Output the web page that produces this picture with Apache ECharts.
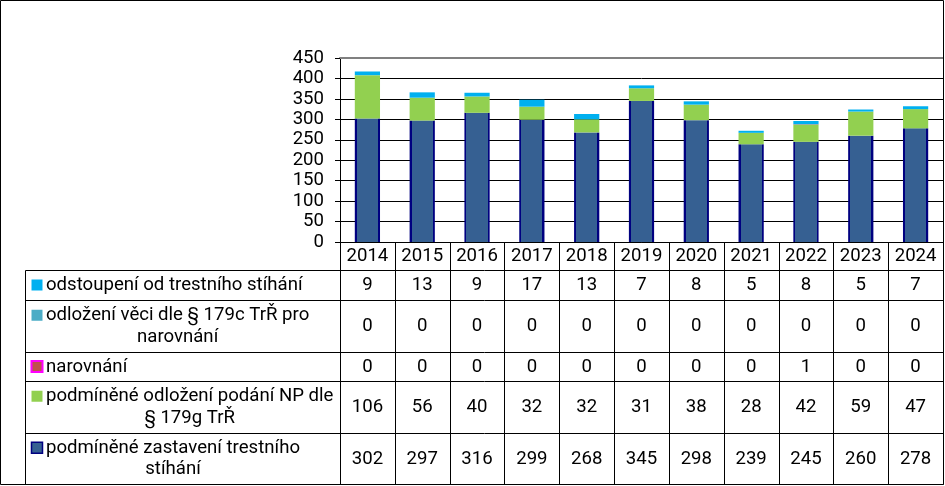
<!DOCTYPE html>
<html><head><meta charset="utf-8">
<script src="https://cdn.jsdelivr.net/npm/echarts@6/dist/echarts.min.js"></script>
<style>html,body{margin:0;padding:0;background:#fff}#c{width:945px;height:486px}</style>
</head><body><div id="c"></div>
<script>
const years = ['2014','2015','2016','2017','2018','2019','2020','2021','2022','2023','2024'];
const odstoupeni = [9,13,9,17,13,7,8,5,8,5,7];
const odlozeni = [0,0,0,0,0,0,0,0,0,0,0];
const narovnani = [0,0,0,0,0,0,0,0,1,0,0];
const podmOdlozeni = [106,56,40,32,32,31,38,28,42,59,47];
const podmZastaveni = [302,297,316,299,268,345,298,239,245,260,278];
const rowLabels = [
  ['odstoupení od trestního stíhání'],
  ['odložení věci dle § 179c TrŘ pro', 'narovnání'],
  ['narovnání'],
  ['podmíněné odložení podání NP dle', '§ 179g TrŘ'],
  ['podmíněné zastavení trestního', 'stíhání']
];
const seriesNames = rowLabels.map(l => l.join(' '));
const rowsData = [odstoupeni, odlozeni, narovnani, podmOdlozeni, podmZastaveni];

const FONT = 'Roboto';
const FS = 18.6;
const blue = '#366092', navy = '#000080', green = '#92D050', cyan = '#00B0F0', teal = '#4BACC6', brown = '#C0504D', magenta = '#FF00FF';

const blueFill = new echarts.graphic.LinearGradient(0, 0, 1, 0, [
  {offset: 0, color: navy}, {offset: 0.08, color: navy},
  {offset: 0.08, color: blue}, {offset: 0.92, color: blue},
  {offset: 0.92, color: navy}, {offset: 1, color: navy}
]);

const chart = echarts.init(document.getElementById('c'), null, {renderer: 'canvas'});
const BW = '46%';
chart.setOption({
  animation: false,
  grid: {left: 340, right: 2, top: 58, bottom: 244, containLabel: false},
  xAxis: [
    {type: 'category', data: years, axisLine: {lineStyle: {color: '#000', width: 1}},
     axisTick: {show: false},
     axisLabel: {fontFamily: FONT, fontSize: FS, color: '#000', margin: 14, verticalAlign: 'middle', interval: 0}},
    {type: 'category', data: years, position: 'top', axisLine: {lineStyle: {color: '#808080', width: 2}},
     axisTick: {show: false}, axisLabel: {show: false}}
  ],
  yAxis: {type: 'value', min: 0, max: 450, interval: 50,
    axisLine: {show: true, lineStyle: {color: '#000'}},
    axisTick: {show: true, length: 5, lineStyle: {color: '#000'}},
    axisLabel: {fontFamily: FONT, fontSize: FS, color: '#000', margin: 16},
    splitLine: {show: true, lineStyle: {color: '#000', width: 1}}},
  series: [
    {name: seriesNames[4], type: 'bar', stack: 's', data: podmZastaveni, barWidth: BW, itemStyle: {color: blueFill}},
    {name: seriesNames[3], type: 'bar', stack: 's', data: podmOdlozeni, barWidth: BW, itemStyle: {color: green}},
    {name: seriesNames[2], type: 'bar', stack: 's', data: narovnani, barWidth: BW, itemStyle: {color: brown}},
    {name: seriesNames[1], type: 'bar', stack: 's', data: odlozeni, barWidth: BW, itemStyle: {color: teal}},
    {name: seriesNames[0], type: 'bar', stack: 's', data: odstoupeni, barWidth: BW, itemStyle: {color: cyan}}
  ]
});

// data table below the axis
const c0 = chart.convertToPixel({xAxisIndex: 0}, 0);
const c1 = chart.convertToPixel({xAxisIndex: 0}, 1);
const bw = c1 - c0;
const x0 = c0 - bw / 2;
const xRight = 943.5;
const headerTop = 242, rowEdges = [270, 300, 352, 381, 433, 484];
const labelLeft = 25.5, textX = 46;
const ctx = document.createElement('canvas').getContext('2d');
ctx.font = FS + 'px ' + FONT;

const g = [];
const line = (x1, y1, x2, y2, w) => g.push({type: 'line', silent: true, z: 10,
  shape: {x1, y1, x2, y2}, style: {stroke: '#000', lineWidth: w || 1}});
// outer border
g.push({type: 'rect', silent: true, z: 10, shape: {x: 0.5, y: 0.5, width: xRight - 0.5, height: 484},
  style: {fill: null, stroke: '#000', lineWidth: 1}});
// horizontal rows
rowEdges.forEach(y => line(labelLeft, y + 0.5, xRight, y + 0.5));
// vertical label column left
line(labelLeft, rowEdges[0] + 0.5, labelLeft, rowEdges[5] + 0.5);
// column separators
for (let k = 0; k < years.length; k++) {
  const x = Math.round(x0 + k * bw) + 0.5;
  line(x, headerTop, x, rowEdges[5] + 0.5);
}
const keyStyles = [
  {fill: cyan}, {fill: teal}, {fill: brown, stroke: magenta, lineWidth: 2},
  {fill: green}, {fill: blue, stroke: navy, lineWidth: 1.5}
];
const txt = (text, x, y, align) => g.push({type: 'text', silent: true, z: 11,
  style: {text, x, y, align: align || 'left', verticalAlign: 'middle', font: FS + 'px ' + FONT, fill: '#000'}});
rowLabels.forEach((lines, r) => {
  const top = rowEdges[r], bot = rowEdges[r + 1];
  const mid = (top + bot) / 2;
  const lh = 21.5;
  const firstY = lines.length > 1 ? mid - lh / 2 : mid;
  const ks = keyStyles[r];
  g.push({type: 'rect', silent: true, z: 11, shape: {x: 31.5, y: firstY - 5.5, width: 11, height: 11},
    style: Object.assign({stroke: null}, ks)});
  txt(lines[0], textX, firstY + 0.5);
  const w0 = ctx.measureText(lines[0]).width;
  for (let j = 1; j < lines.length; j++) {
    txt(lines[j], textX + w0 / 2, firstY + j * lh + 0.5, 'center');
  }
  rowsData[r].forEach((v, i) => {
    txt(String(v), chart.convertToPixel({xAxisIndex: 0}, i), mid + 0.5, 'center');
  });
});
chart.setOption({graphic: g});
</script>
</body></html>
